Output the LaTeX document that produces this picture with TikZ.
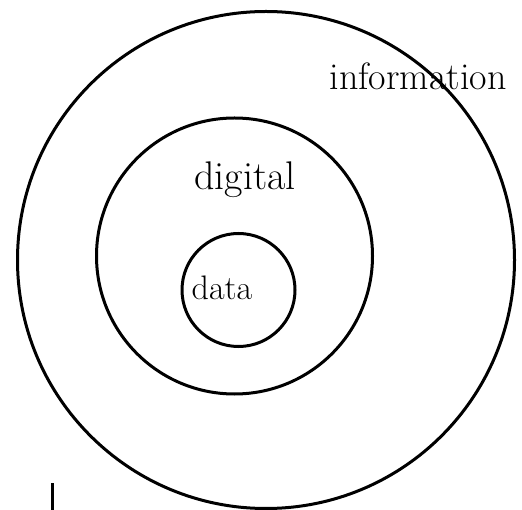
\documentclass[tikz,border=0pt]{standalone}
\begin{document}
\begin{tikzpicture}[x=1pt,y=-1pt,
  ring/.style={draw=black,circle,line width=3pt,inner sep=0pt},
  hand/.style={inner sep=0pt}]
\useasboundingbox (0,0) rectangle (522,510);
\node[ring,minimum size=497pt] (outer) at (266,260) {};
\node[ring,minimum size=276pt] (middle) at (234.5,256) {};
\node[ring,minimum size=113pt] (inner) at (238.5,290) {};
\node[hand,font=\fontsize{38}{42}\selectfont] (info) at (418,76) {information};
\node[hand,font=\fontsize{40}{44}\selectfont] (dig) at (245,180) {digital};
\node[hand,font=\fontsize{34}{38}\selectfont] (dat) at (222,288) {data};
\coordinate (m1) at (52,483);
\coordinate (m2) at (52,512);
\draw[line width=3pt] (m1) -- (m2);
\end{tikzpicture}
\end{document}
